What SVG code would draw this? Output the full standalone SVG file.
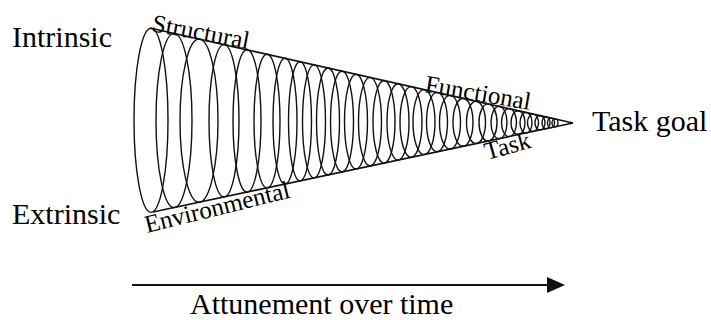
<svg xmlns="http://www.w3.org/2000/svg" width="711" height="320" viewBox="0 0 711 320">
<rect width="711" height="320" fill="#fff"/>
<text id="intrinsic" x="12" y="47" font-size="30" font-family="Liberation Serif">Intrinsic</text>
<text id="extrinsic" x="12" y="224" font-size="30" font-family="Liberation Serif">Extrinsic</text>
<text id="task-goal" x="592" y="131" font-size="30" font-family="Liberation Serif">Task goal</text>
<text id="attunement" x="190" y="314" font-size="30" font-family="Liberation Serif">Attunement over time</text>
<text id="structural" x="0" y="0" font-size="25" font-family="Liberation Serif" transform="translate(151,31) rotate(10.5)">Structural</text>
<text id="functional" x="0" y="0" font-size="25" font-family="Liberation Serif" transform="translate(424,92) rotate(9.7)">Functional</text>
<text id="task" x="0" y="0" font-size="25" font-family="Liberation Serif" transform="translate(487,160) rotate(-15.5)">Task</text>
<text id="environmental" x="0" y="0" font-size="25" font-family="Liberation Serif" transform="translate(147,233) rotate(-13.9)">Environmental</text>
<g id="cone" fill="none" stroke="#111" stroke-width="1.4">
<ellipse cx="151" cy="120.3" rx="17" ry="92.1"/>
<ellipse cx="174" cy="120.5" rx="18" ry="87.1"/>
<ellipse cx="199" cy="120.6" rx="19" ry="81.6"/>
<ellipse cx="224" cy="120.8" rx="15" ry="76.2"/>
<ellipse cx="247" cy="120.9" rx="14" ry="71.2"/>
<ellipse cx="267" cy="121.1" rx="13" ry="66.8"/>
<ellipse cx="285" cy="121.2" rx="12" ry="62.9"/>
<ellipse cx="300" cy="121.3" rx="11.5" ry="59.6"/>
<ellipse cx="314" cy="121.4" rx="11.5" ry="56.5"/>
<ellipse cx="328" cy="121.5" rx="11.5" ry="53.5"/>
<ellipse cx="342" cy="121.5" rx="11.5" ry="50.4"/>
<ellipse cx="356" cy="121.6" rx="11.5" ry="47.4"/>
<ellipse cx="370" cy="121.7" rx="11.5" ry="44.3"/>
<ellipse cx="384" cy="121.8" rx="11" ry="41.3"/>
<ellipse cx="398" cy="121.9" rx="11" ry="38.2"/>
<ellipse cx="411" cy="122" rx="11" ry="35.4"/>
<ellipse cx="424" cy="122.1" rx="11" ry="32.5"/>
<ellipse cx="437" cy="122.1" rx="10.5" ry="29.7"/>
<ellipse cx="450" cy="122.2" rx="10.5" ry="26.8"/>
<ellipse cx="463" cy="122.3" rx="10" ry="24"/>
<ellipse cx="476" cy="122.4" rx="9.5" ry="21.2"/>
<ellipse cx="488" cy="122.5" rx="9" ry="18.6"/>
<ellipse cx="499" cy="122.5" rx="8" ry="16.2"/>
<ellipse cx="509" cy="122.6" rx="7.5" ry="14"/>
<ellipse cx="518" cy="122.7" rx="7" ry="12"/>
<ellipse cx="526" cy="122.7" rx="6" ry="10.3"/>
<ellipse cx="533" cy="122.8" rx="5.5" ry="8.7"/>
<ellipse cx="540" cy="122.8" rx="5" ry="7.3"/>
<ellipse cx="546" cy="122.8" rx="4" ry="6"/>
<ellipse cx="551" cy="122.9" rx="3.5" ry="4.9"/>
<ellipse cx="555" cy="122.9" rx="3" ry="4"/>
</g>
<g id="connectors" stroke="#111">
<line x1="150" y1="28" x2="573" y2="123" stroke-width="1.6"/>
<line x1="153" y1="212" x2="573" y2="123" stroke-width="1.6"/>
<line x1="132" y1="285" x2="549" y2="285" stroke-width="1.8"/>
<polygon points="547,277 565,285 547,293" fill="#111" stroke="none"/>
</g>
</svg>
